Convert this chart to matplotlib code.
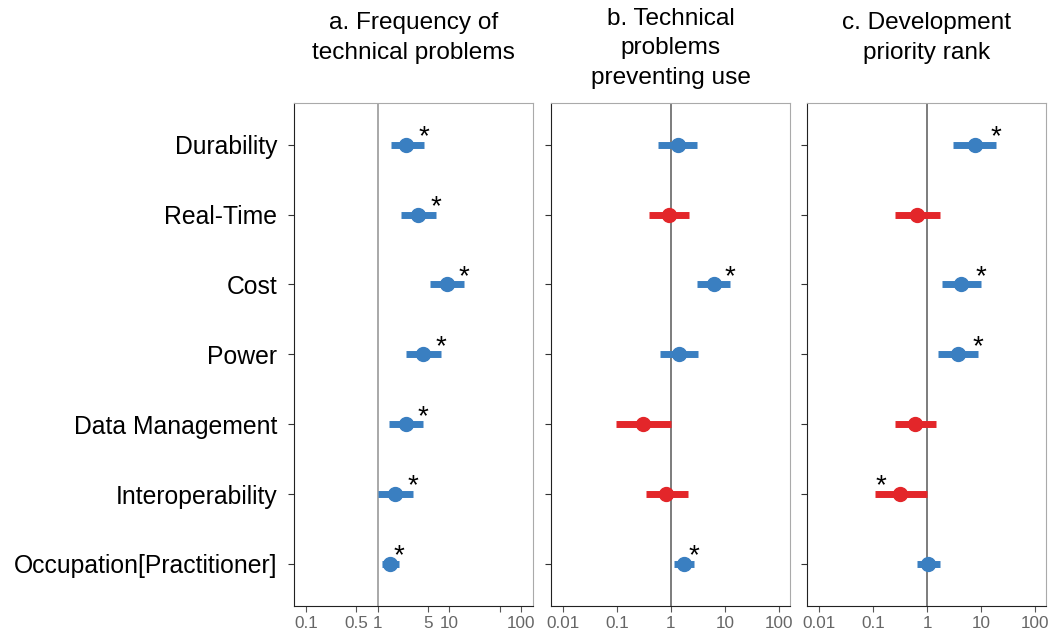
import matplotlib.pyplot as plt

plt.rcParams['font.family'] = ['Liberation Sans', 'DejaVu Sans']

factors = ["Durability", "Real-Time", "Cost", "Power", "Data Management",
           "Interoperability", "Occupation[Practitioner]"]

titles = ["a. Frequency of\ntechnical problems",
          "b. Technical\nproblems\npreventing use",
          "c. Development\npriority rank"]

# odds ratios with 95% CI, one list per panel
or_a = [2.5, 3.66, 9.3, 4.3, 2.46, 1.73, 1.47]
lo_a = [1.5, 2.1, 5.3, 2.5, 1.44, 1.0, 1.13]
hi_a = [4.4, 6.5, 16.0, 7.5, 4.3, 3.06, 1.99]
sig_a = [1, 1, 1, 1, 1, 1, 1]

or_b = [1.33, 0.92, 6.25, 1.41, 0.30, 0.82, 1.72]
lo_b = [0.58, 0.39, 3.0, 0.63, 0.096, 0.34, 1.12]
hi_b = [3.0, 2.15, 12.5, 3.2, 0.99, 2.04, 2.67]
sig_b = [0, 0, 1, 0, 0, 0, 1]

or_c = [7.6, 0.66, 4.3, 3.7, 0.60, 0.32, 1.06]
lo_c = [3.07, 0.25, 1.87, 1.58, 0.25, 0.11, 0.66]
hi_c = [18.7, 1.74, 10.1, 8.8, 1.49, 0.99, 1.74]
sig_c = [1, 0, 1, 1, 0, 1, 0]

ticks_a = [0.1, 0.5, 1, 5, 10, 50, 100]
tlabels_a = ["0.1", "0.5", "1", "5", "10", "", "100"]
ticks_bc = [0.01, 0.1, 1, 10, 100]
tlabels_bc = ["0.01", "0.1", "1", "10", "100"]

BLUE = "#3a7fc1"
RED = "#e3262a"

panels = [
    (or_a, lo_a, hi_a, sig_a, ticks_a, tlabels_a, (0.067, 147), "#999999"),
    (or_b, lo_b, hi_b, sig_b, ticks_bc, tlabels_bc, (0.006, 160), "#666666"),
    (or_c, lo_c, hi_c, sig_c, ticks_bc, tlabels_bc, (0.006, 160), "#666666"),
]
lefts = [0.2768, 0.5188, 0.7599]
width = 0.2251
title_y = [0.981, 0.988, 0.981]

fig = plt.figure(figsize=(10.62, 6.31), dpi=100)

for k, (est, lo, hi, sig, ticks, tl, xlim, refc) in enumerate(panels):
    ax = fig.add_axes([lefts[k], 0.040, width, 0.797])
    ax.set_xscale('log')
    ax.set_xlim(*xlim)
    ax.set_ylim(6.6, -0.6)
    ax.axvline(1, color=refc, lw=1.2, zorder=1)
    for i in range(len(factors)):
        c = BLUE if est[i] >= 1 else RED
        ax.plot([lo[i], hi[i]], [i, i], color=c, lw=5, solid_capstyle='butt', zorder=2)
        ax.plot(est[i], i, 'o', color=c, ms=10, zorder=3)
        if sig[i]:
            if est[i] >= 1:
                ax.annotate("*", (hi[i], i), xytext=(0, -4), textcoords='offset points',
                            ha='center', va='bottom', fontsize=20)
            else:
                ax.annotate("*", (lo[i], i), xytext=(4, -4), textcoords='offset points',
                            ha='center', va='bottom', fontsize=20)
    ax.set_xticks(ticks)
    ax.set_xticklabels(tl)
    ax.xaxis.set_minor_locator(plt.NullLocator())
    ax.set_yticks(range(len(factors)))
    if k == 0:
        ax.set_yticklabels(factors, fontsize=17.8)
    else:
        ax.set_yticklabels([])
    ax.tick_params(axis='x', labelsize=12.3, labelcolor="#666666", length=4, color="#555555")
    ax.tick_params(axis='y', length=4, color="#333333", pad=8)
    for s in ['top', 'right']:
        ax.spines[s].set_color("#aaaaaa")
    for s in ['left', 'bottom']:
        ax.spines[s].set_color("#222222")
    fig.text(lefts[k] + width / 2, title_y[k], titles[k], ha='center', va='top',
             fontsize=17.6, linespacing=1.45)

plt.savefig("out.png", dpi=100)
